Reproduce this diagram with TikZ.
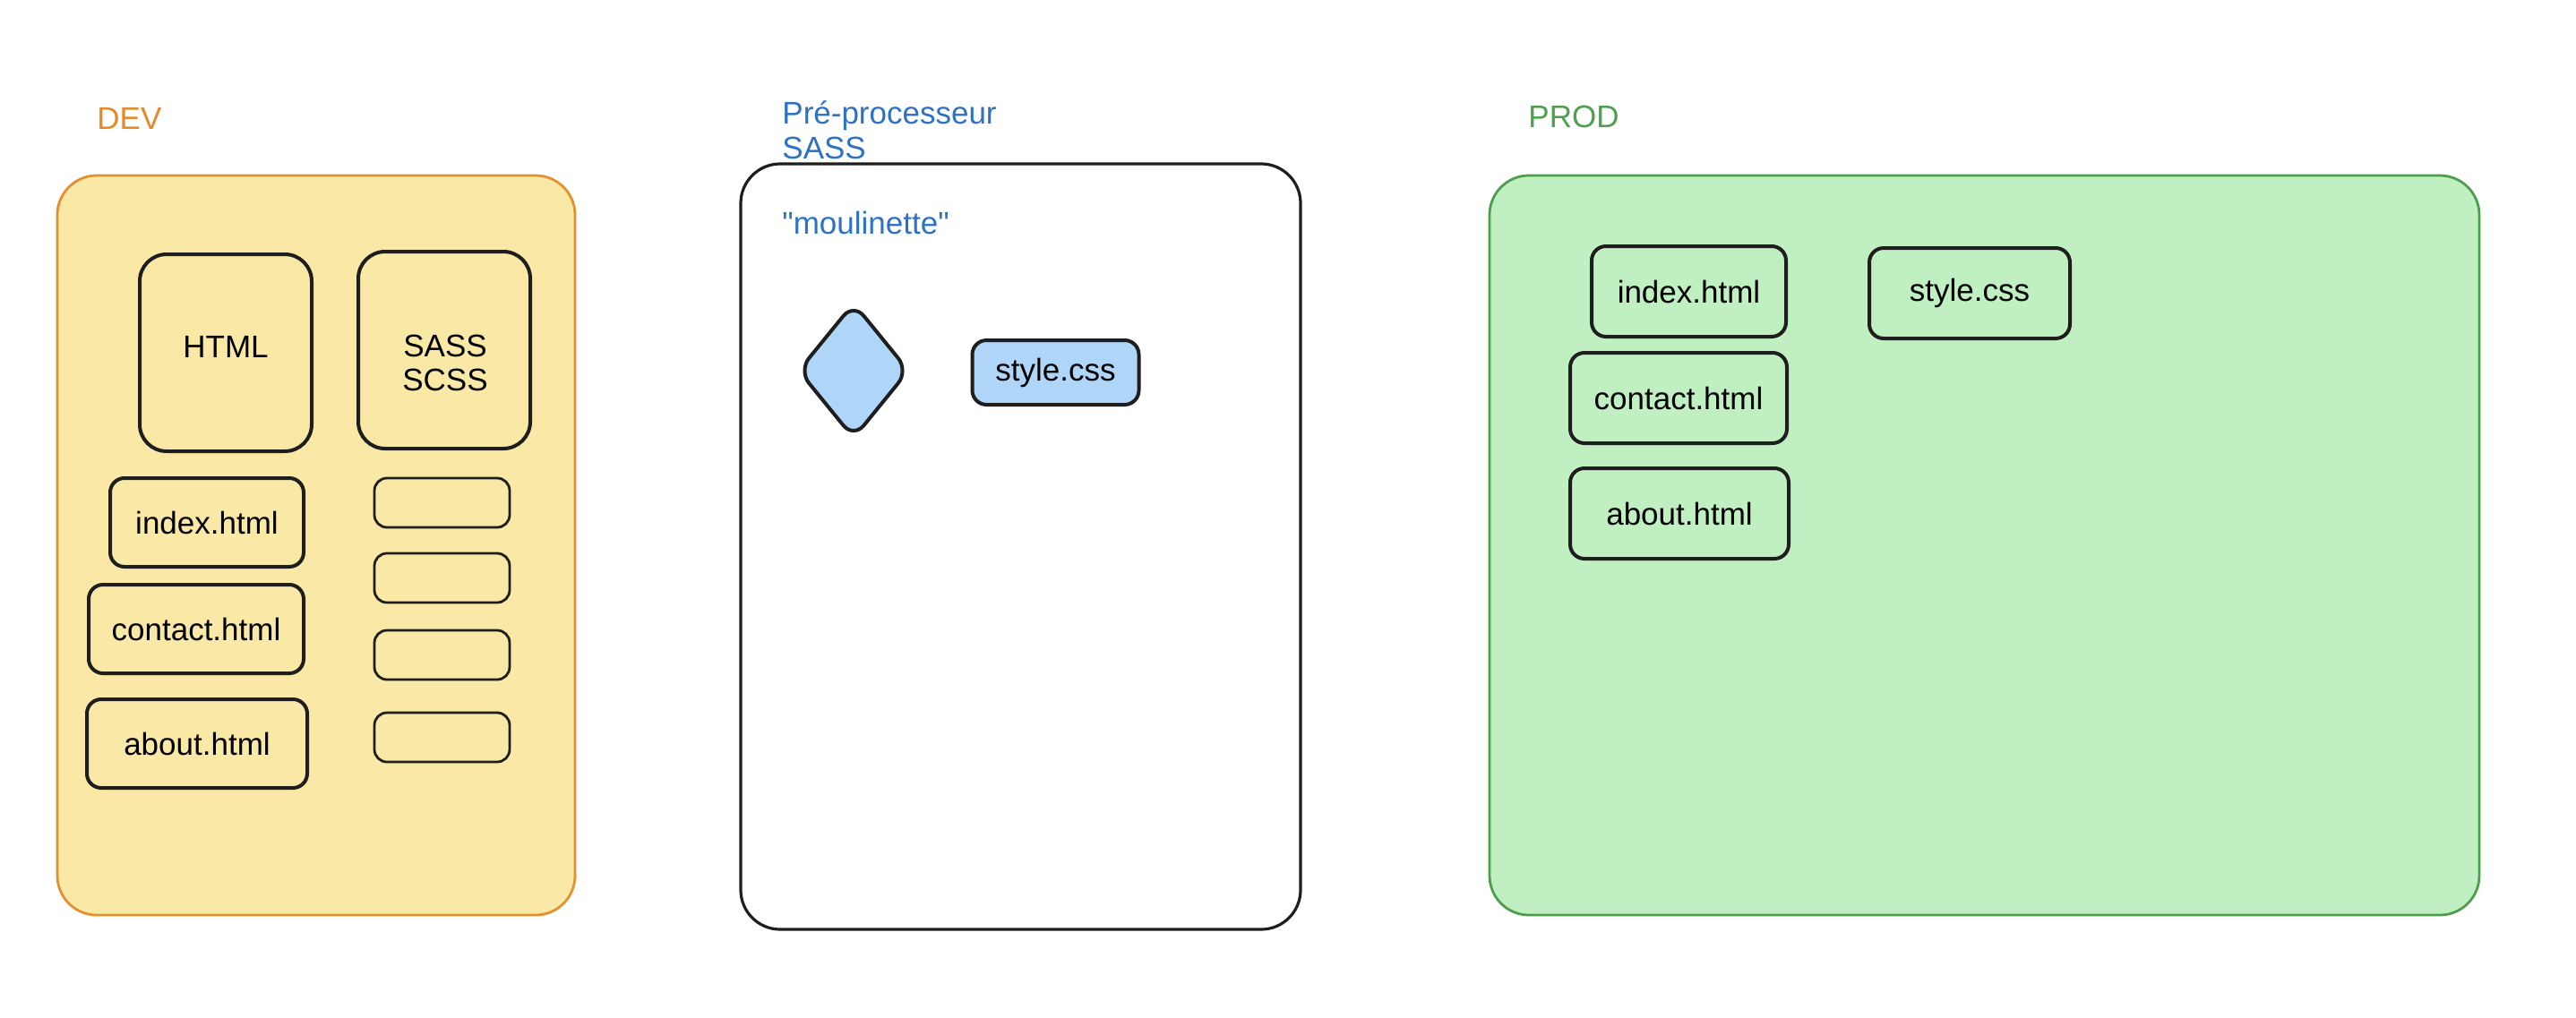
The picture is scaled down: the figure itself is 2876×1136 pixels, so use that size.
\documentclass[tikz,border=0pt]{standalone}
\usepackage{fontspec}
\setmainfont{Liberation Sans}
\usetikzlibrary{shapes.geometric}
\definecolor{devfill}{HTML}{FAE9A6}
\definecolor{devline}{HTML}{E3912F}
\definecolor{devtext}{HTML}{E38B2B}
\definecolor{bluetext}{HTML}{2F72C4}
\definecolor{bluefill}{HTML}{AFD6F9}
\definecolor{greenfill}{HTML}{C0EFC1}
\definecolor{greenline}{HTML}{4E9E4E}
\definecolor{greentext}{HTML}{4F9F4F}
\definecolor{ink}{HTML}{1E1E1E}
\newcommand\straightq{{\XeTeXglyph\XeTeXglyphindex "quotedbl" \relax}}
\tikzset{
  txt/.style={font=\fontsize{17.5}{21}\selectfont, inner sep=0pt},
  container/.style={rectangle, rounded corners=22pt, line width=1.4pt, inner sep=0pt},
  bigbox/.style={rectangle, rounded corners=15pt, draw=ink, line width=2pt, inner sep=0pt,
    minimum width=96pt, minimum height=110pt},
  filebox/.style={rectangle, rounded corners=8pt, draw=ink, line width=2pt, txt,
    minimum height=49.5pt},
  emptybox/.style={rectangle, rounded corners=7pt, draw=ink, line width=1.4pt, inner sep=0pt,
    minimum width=75.5pt, minimum height=27.5pt},
}
\begin{document}
\begin{tikzpicture}[x=0.5pt,y=-0.5pt]
\useasboundingbox[fill=white] (0,0) rectangle (2876,1136);

% ---------- DEV ----------
\node[txt, text=devtext, anchor=west] (devlabel) at (108,132) {DEV};
\node[container, draw=devline, fill=devfill, minimum width=289pt, minimum height=413pt] (dev) at (353,609) {};
\node[bigbox] (html) at (252,394) {};
\node[txt] (htmltext) at (252,387) {HTML};
\node[bigbox] (sass) at (496,391) {};
\node[txt, align=center, font=\fontsize{17.5}{19}\selectfont] (sasstext) at (497,405) {SASS\\SCSS};
\node[filebox, minimum width=108pt] (dindex) at (231,583.5) {index.html};
\node[filebox, minimum width=120pt] (dcontact) at (219,702.5) {contact.html};
\node[filebox, minimum width=123pt] (dabout) at (220,830.5) {about.html};
\node[emptybox] (s1) at (493.5,561.5) {};
\node[emptybox] (s2) at (493.5,645.5) {};
\node[emptybox] (s3) at (493.5,731.5) {};
\node[emptybox] (s4) at (493.5,823.5) {};

% ---------- Pre-processeur ----------
\node[container, draw=ink, fill=white, line width=1.6pt, minimum width=312.5pt, minimum height=427.5pt] (pre) at (1139.5,610.5) {};
\node[txt, text=bluetext, anchor=north west, align=left, font=\fontsize{17.5}{19.5}\selectfont] (prelabel) at (873,112) {Pré-processeur\\SASS};
\node[txt, text=bluetext, anchor=west] (moul) at (873,249) {\straightq moulinette\straightq};
\node[diamond, draw=ink, fill=bluefill, line width=2pt, rounded corners=9pt, inner sep=0pt,
  minimum width=62pt, minimum height=76pt] (dia) at (953,414) {};
\node[filebox, fill=bluefill, minimum width=93pt, minimum height=36pt] (pstyle) at (1178.5,416) {style.css};

% ---------- PROD ----------
\node[txt, text=greentext, anchor=west] (prodlabel) at (1706,130) {PROD};
\node[container, draw=greenline, fill=greenfill, minimum width=552.5pt, minimum height=413pt] (prod) at (2215.5,609) {};
\node[filebox, minimum width=108.5pt, minimum height=50.5pt] (pindex) at (1885.5,325.5) {index.html};
\node[filebox, minimum width=112pt, minimum height=50.5pt] (pstyle2) at (2199,327.5) {style.css};
\node[filebox, minimum width=121pt, minimum height=50.5pt] (pcontact) at (1874,444.5) {contact.html};
\node[filebox, minimum width=122pt, minimum height=50.5pt] (pabout) at (1875,573.5) {about.html};
\end{tikzpicture}
\end{document}
